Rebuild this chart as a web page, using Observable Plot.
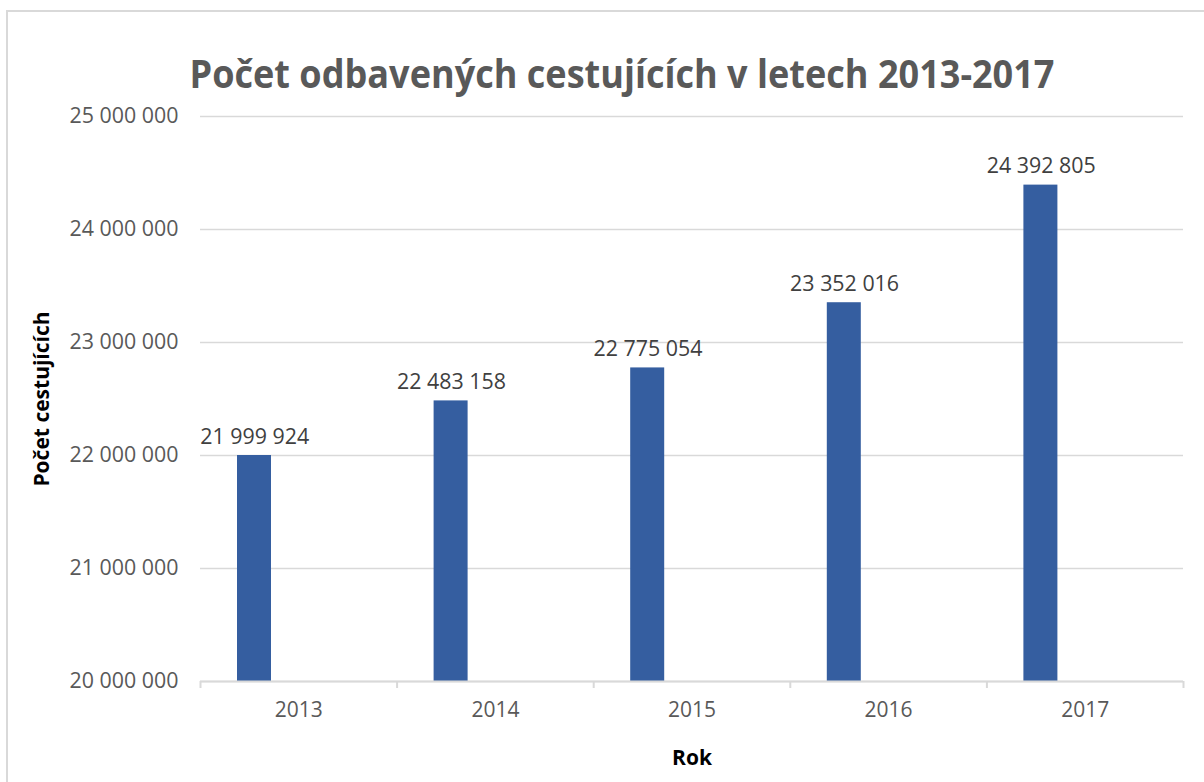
<!DOCTYPE html>
<html>
<head>
<meta charset="utf-8">
<script src="https://cdn.jsdelivr.net/npm/d3@7"></script>
<script src="https://cdn.jsdelivr.net/npm/@observablehq/plot@0.6"></script>
<style>
  html, body { margin: 0; padding: 0; background: #fff; overflow: hidden; width: 1204px; height: 782px; }
  #wrap { position: relative; width: 1204px; height: 782px; }
  #border { position: absolute; left: 6px; top: 10px; width: 1400px; height: 1000px; border: 2px solid #d9d9d9; box-sizing: border-box; }
  #title { position: absolute; left: 0; top: 0; }
  #chart { position: absolute; left: 0; top: 0; }
</style>
</head>
<body>
<div id="wrap">
  <div id="border"></div>
  <div id="chart"></div>
  <svg id="title" width="1204" height="110"></svg>
</div>
<script>
const years = ["2013", "2014", "2015", "2016", "2017"];
const passengers = [21999924, 22483158, 22775054, 23352016, 24392805];
const yTicks = [20000000, 21000000, 22000000, 23000000, 24000000, 25000000];
const titleText = "Počet odbavených cestujících v letech 2013-2017";
const yLabel = "Počet cestujících";
const xLabel = "Rok";

const loc = d3.formatLocale({decimal: ",", thousands: " ", grouping: [3], currency: ["", " Kč"]});
const fmt = loc.format(",d");

const data = years.map((y, i) => ({year: y, i, value: passengers[i]}));
const font = "'Open Sans', sans-serif";

const plot = Plot.plot({
  width: 1204,
  height: 782,
  marginLeft: 200,
  marginRight: 21,
  marginTop: 116,
  marginBottom: 101,
  style: {fontFamily: font, fontSize: "21px", color: "#595959", background: "transparent", overflow: "visible"},
  x: {domain: [0, years.length]},
  y: {domain: [20000000, 25000000]},
  marks: [
    Plot.gridY(yTicks, {stroke: "#d9d9d9", strokeOpacity: 1, strokeWidth: 1.5}),
    Plot.rectY(data, {
      x1: "i", x2: d => d.i + 1, y1: 20000000, y2: "value",
      fill: "#355EA0", insetLeft: 37, insetRight: 125.6
    }),
    Plot.ruleY([20000000], {stroke: "#d9d9d9", strokeWidth: 2}),
    Plot.axisX(d3.range(years.length + 1), {
      tickSize: 7, stroke: "#d9d9d9", strokeWidth: 2, tickFormat: () => "", label: null
    }),
    Plot.axisX(years.map((y, i) => i + 0.5), {
      tickSize: 0, tickPadding: 21, tickFormat: d => years[Math.floor(d)],
      fill: "#595959", fontSize: 21,
      label: xLabel, labelAnchor: "center", labelArrow: "none", labelOffset: 83
    }),
    Plot.axisY(yTicks, {
      tickSize: 0, tickPadding: 22, tickFormat: fmt, fill: "#595959", fontSize: 21.4,
      label: yLabel, labelAnchor: "center", labelArrow: "none", labelOffset: 166
    }),
    Plot.text(data, {
      x: d => d.i + 0.5, y: "value", text: d => fmt(d.value),
      dx: -44, dy: -12, lineAnchor: "bottom", fill: "#404040", fontSize: 21.4
    })
  ]
});

// style axis labels (bold, black)
plot.querySelectorAll("g[aria-label='x-axis label'] text, g[aria-label='y-axis label'] text").forEach(t => {
  t.setAttribute("font-weight", "bold");
  t.setAttribute("fill", "#000");
  t.setAttribute("font-size", "21");
});
document.getElementById("chart").appendChild(plot);

const tsvg = d3.select("#title");
tsvg.append("text")
  .attr("x", 622).attr("y", 88)
  .attr("text-anchor", "middle")
  .attr("font-family", font)
  .attr("font-weight", "bold")
  .attr("font-size", 39)
  .attr("fill", "#595959")
  .attr("textLength", 865)
  .attr("lengthAdjust", "spacingAndGlyphs")
  .text(titleText);
</script>
</body>
</html>
